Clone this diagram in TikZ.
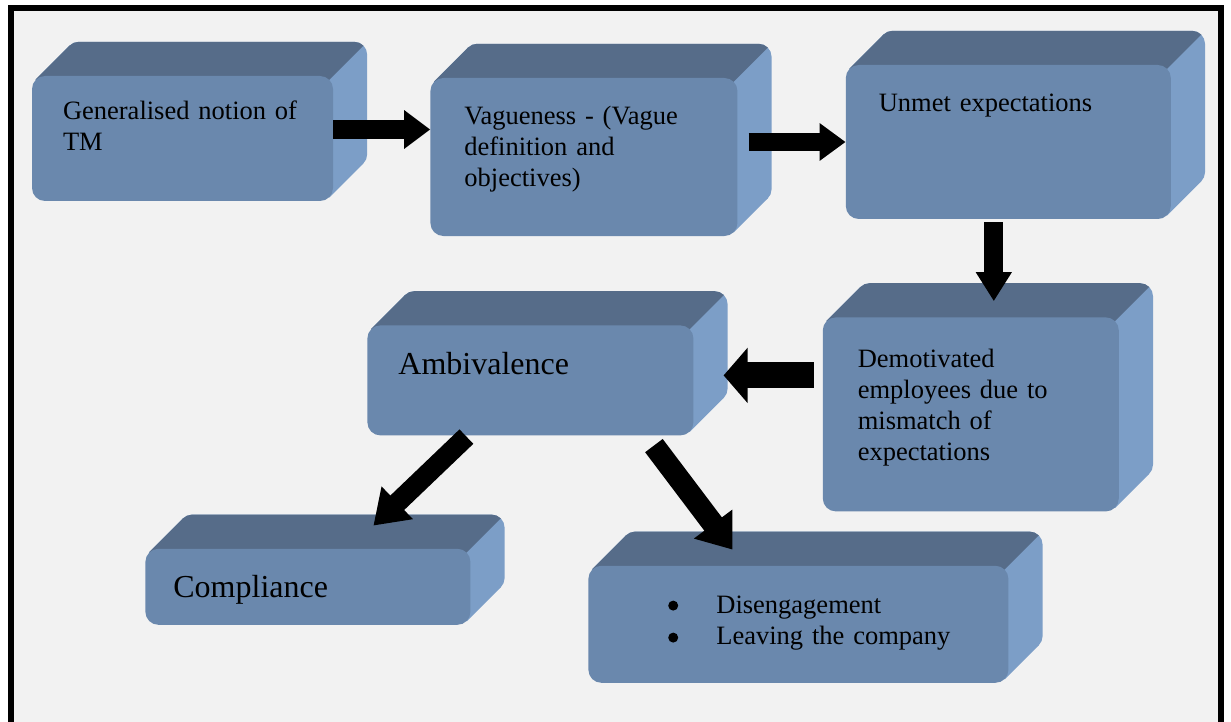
\documentclass[tikz,border=0pt]{standalone}
\usepackage{fontspec}
\setmainfont{Liberation Serif}
\usetikzlibrary{positioning,arrows.meta}

\pgfdeclarelayer{backdrop}
\pgfdeclarelayer{faces}
\pgfsetlayers{backdrop,faces,main}

\definecolor{slabfront}{RGB}{106,136,173}
\definecolor{slabtop}{RGB}{86,108,137}
\definecolor{slabside}{RGB}{124,158,199}
\definecolor{pagegray}{RGB}{242,242,242}

\newcommand\boxfont{\fontsize{26.5}{31}\selectfont}
\newcommand\bigboxfont{\fontsize{32}{38}\selectfont}
\newcommand\slabhull[2]{%
  \fill[#2, rounded corners=13pt] ([shift={(34pt,34pt)}]#1.north west) rectangle ([shift={(34pt,34pt)}]#1.south east);
  \fill[#2] ([shift={(3.8pt,-3.8pt)}]#1.north west) -- ([shift={(37.8pt,30.2pt)}]#1.north west)
    -- ([shift={(30.2pt,37.8pt)}]#1.south east) -- ([shift={(-3.8pt,3.8pt)}]#1.south east) -- cycle;}

\tikzset{
  slab/.style n args={4}{fill=slabfront, rounded corners=13pt, align=left, font=\boxfont,
    text width=#1pt, inner xsep=#2pt, inner ysep=0pt, text height=#3pt, text depth=#4pt},
  blockarrow/.style n args={3}{line width=#1pt, -{Triangle[width=#2pt,length=#3pt]}},
}

\begin{document}
\begin{tikzpicture}[x=1pt,y=-1pt]

    \useasboundingbox (0,0) rectangle (1231,722);
    \begin{pgfonlayer}{backdrop}
      \fill[white] (0,0) rectangle (1231,722);
      \filldraw[fill=pagegray, line width=6pt] (11,8) rectangle (1221,760);
    \end{pgfonlayer}

    \node[slab={239}{31}{44}{81}] (gen) at (182.5,138.5) {Generalised notion of\\TM};
    \node[slab={239}{34}{47}{111}] (vague) [right=97pt of gen, yshift=-18.5pt] {Vagueness - (Vague\\definition and\\objectives)};
    \node[slab={259}{33}{47}{107}] (unmet) [right=108pt of vague, yshift=15pt] {Unmet expectations};
    \node[slab={226}{35}{50}{144}] (demot) [below=98pt of unmet, xshift=-37.5pt] {Demotivated\\employees due to\\mismatch of\\expectations};
    \node[slab={264}{31}{49}{61}, font=\bigboxfont] (ambiv) [left=129pt of demot, yshift=34pt] {Ambivalence};
    \node[slab={269}{28}{49}{27}, font=\bigboxfont] (compl) [below=113pt of ambiv, xshift=-222.5pt] {Compliance};
    \node[slab={356}{32}{48}{69}] (diseng) [below=130pt of ambiv, xshift=268pt] {\hspace*{96pt}Disengagement\\\hspace*{96pt}Leaving the company};
    \foreach \dy in {40,72}
      \fill (diseng.north west) ++(85,\dy) circle (5pt);

    \begin{pgfonlayer}{faces}
      \foreach \b in {gen,vague,unmet,demot,ambiv,compl,diseng}{
        \slabhull{\b}{slabside}
        \begin{scope}
          \clip ([shift={(-303.8pt,-303.8pt)}]\b.north east) -- ([shift={(296.2pt,296.2pt)}]\b.north east)
            -- ([shift={(-303.8pt,896.2pt)}]\b.north east) -- ([shift={(-903.8pt,296.2pt)}]\b.north east) -- cycle;
          \slabhull{\b}{slabtop}
        \end{scope}
      }
    \end{pgfonlayer}

    \path
    ([yshift=9pt]gen.east) edge[blockarrow={19}{37}{26}] ([yshift=27.5pt]vague.west)
    ([xshift=11pt,yshift=15pt]vague.east) edge[blockarrow={18}{36}{26}] (unmet.west)
    ([xshift=-14.5pt,yshift=-3pt]unmet.south) edge[blockarrow={19}{34}{29}] ([xshift=23pt,yshift=16pt]demot.north)
    ([xshift=-9pt,yshift=39pt]demot.west) edge[blockarrow={26}{54}{24}] ([xshift=30pt,yshift=5pt]ambiv.east)
    ([xshift=-64pt,yshift=-1pt]ambiv.south) edge[blockarrow={20}{43}{33}] ([xshift=65.5pt,yshift=23pt]compl.north)
    ([xshift=123.5pt,yshift=-10pt]ambiv.south) edge[blockarrow={22}{46}{32}] ([xshift=-66pt,yshift=16pt]diseng.north)
    ;

\end{tikzpicture}
\end{document}
